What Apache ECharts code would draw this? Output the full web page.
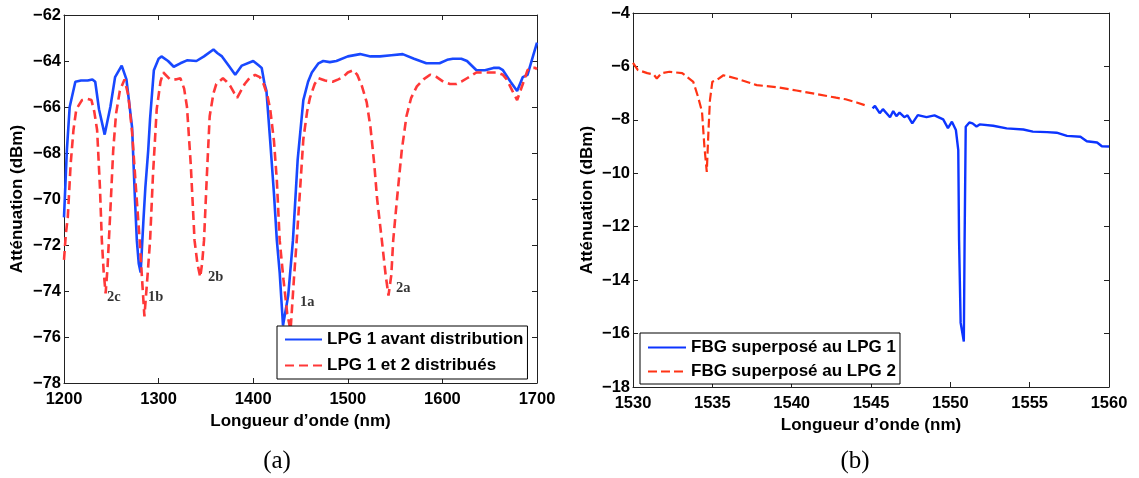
<!DOCTYPE html>
<html>
<head>
<meta charset="utf-8">
<script src="https://cdn.jsdelivr.net/npm/echarts@6/dist/echarts.min.js"></script>
<style>
html,body{margin:0;padding:0;background:#fff;}
#chart{width:1139px;height:478px;}
</style>
</head>
<body>
<div id="chart"></div>
<script>
// ---------- Data (a) ----------
const lpg1Wl = [1200,1203,1206,1212,1218,1225,1230,1233,1237,1243,1249,1254,1261,1266,1272,1275,1277,1279,1281,1284,1286,1289,1291,1295,1300,1303,1310,1316,1323,1330,1340,1348,1358,1362,1367,1374,1381,1388,1400,1406,1409,1412,1414,1418,1422,1425,1428,1431.5,1437,1442,1447,1453,1458,1462,1469,1474,1481,1488,1500,1513,1524,1534,1546,1558,1570,1583,1597,1605,1611,1620,1626,1636,1645,1654,1660,1664,1672,1679,1685,1690,1695,1700];
const lpg1Atten = [-70.8,-67.9,-66.0,-64.9,-64.85,-64.85,-64.8,-64.9,-66.1,-67.2,-66.0,-64.7,-64.2,-64.8,-66.9,-70.0,-71.8,-72.8,-73.2,-70.9,-69.5,-67.9,-66.5,-64.4,-63.9,-63.8,-64.0,-64.25,-64.1,-63.97,-64.0,-63.8,-63.5,-63.65,-63.8,-64.2,-64.6,-64.2,-64.0,-64.2,-64.3,-65.0,-65.3,-67.5,-69.8,-71.8,-73.2,-75.5,-74.2,-71.8,-68.3,-65.7,-64.9,-64.5,-64.1,-64.0,-64.05,-64.0,-63.8,-63.7,-63.8,-63.8,-63.75,-63.7,-63.9,-64.1,-64.1,-63.95,-63.9,-63.9,-64.0,-64.4,-64.4,-64.3,-64.3,-64.4,-64.9,-65.3,-64.7,-64.6,-63.9,-63.2];

const lpg12Wl = [1200,1202,1204,1207,1210,1213,1219,1225,1229,1232,1235,1238,1240,1242,1244,1246,1249,1252,1255,1259,1264,1268,1272,1276,1280,1283,1285,1288,1291,1294,1298,1302,1305,1312,1318,1323,1327,1330,1334,1338,1341,1344,1346,1348,1351,1354,1358,1361,1368,1372,1376,1380,1383,1387,1391,1396,1402,1407,1411,1415,1418,1422,1425,1428,1432,1436,1439.5,1443,1446,1450,1453,1457,1460,1465,1469,1476,1484,1490,1495,1500,1506,1510,1515,1520,1524,1528,1531,1536,1540,1543,1546,1548,1552,1557,1562,1567,1573,1580,1587,1594,1601,1608,1615,1620,1626,1636,1647,1658,1664,1668,1674,1679,1685,1690,1694,1698,1700];
const lpg12Atten = [-72.65,-71.5,-70.8,-68.5,-67.0,-66.1,-65.7,-65.65,-65.7,-66.2,-67.0,-69.5,-71.8,-73.2,-74.1,-73.0,-70.5,-67.9,-66.3,-65.3,-64.8,-65.5,-67.1,-69.5,-71.8,-73.8,-75.1,-73.5,-71.8,-69.0,-66.1,-64.9,-64.5,-64.8,-64.8,-64.75,-65.2,-66.0,-68.5,-71.8,-72.8,-73.4,-72.8,-71.8,-69.0,-66.4,-65.4,-65.0,-64.75,-64.9,-65.1,-65.4,-65.6,-65.3,-65.0,-64.75,-64.6,-64.7,-65.0,-65.5,-66.1,-67.5,-69.2,-71.8,-73.5,-75.0,-75.7,-73.5,-71.8,-69.3,-67.4,-66.2,-65.6,-65.0,-64.75,-64.85,-64.9,-64.8,-64.7,-64.5,-64.4,-64.6,-65.1,-65.8,-66.9,-68.5,-70.0,-71.8,-73.3,-74.2,-73.3,-71.8,-70.0,-67.9,-66.4,-65.6,-65.1,-64.8,-64.6,-64.7,-64.9,-65.0,-65.0,-64.9,-64.75,-64.5,-64.5,-64.5,-64.6,-64.8,-65.3,-65.7,-65.0,-64.4,-64.3,-64.3,-64.35];

const annoNames = ['2c','1b','2b','1a','2a'];
const annoWl = [1245.5,1288.8,1352.2,1449.5,1551];
const annoAtten = [-74.26,-74.26,-73.4,-74.5,-73.9];

// ---------- Data (b) ----------
const fbg1Wl = [1545.1,1545.25,1545.55,1545.75,1546.2,1546.4,1546.6,1546.8,1547.1,1547.3,1547.6,1547.95,1548.5,1549.0,1549.55,1549.85,1550.1,1550.35,1550.5,1550.55,1550.65,1550.85,1550.9,1550.97,1551.2,1551.4,1551.65,1551.85,1552.7,1553.55,1554.6,1555.2,1556.1,1556.7,1557.35,1558.2,1558.6,1559.25,1559.55,1560];
const fbg1Atten = [-7.57,-7.48,-7.75,-7.6,-7.9,-7.67,-7.86,-7.73,-7.9,-7.83,-8.13,-7.82,-7.9,-7.83,-7.98,-8.31,-8.07,-8.38,-9.13,-12.5,-15.6,-16.3,-12.5,-8.26,-8.1,-8.13,-8.25,-8.17,-8.22,-8.32,-8.36,-8.44,-8.46,-8.48,-8.6,-8.63,-8.8,-8.85,-8.99,-9.0];

const fbg2Wl = [1530.0,1530.3,1530.9,1531.3,1531.5,1531.8,1532.3,1533.1,1533.8,1534.1,1534.35,1534.5,1534.65,1534.75,1534.85,1535.0,1535.3,1535.7,1536.5,1537.8,1539.1,1540.3,1541.6,1542.8,1543.4,1544.1,1544.6];
const fbg2Atten = [-5.87,-6.13,-6.25,-6.3,-6.45,-6.25,-6.2,-6.25,-6.58,-7.14,-7.7,-9.0,-9.95,-8.5,-7.26,-6.57,-6.5,-6.33,-6.45,-6.7,-6.78,-6.9,-7.04,-7.17,-7.23,-7.35,-7.45];

// ---------- Axis ranges / labels ----------
const axA = {xMin:1200, xMax:1700, xStep:100, yMin:-78, yMax:-62, yStep:2};
const axB = {xMin:1530, xMax:1560, xStep:5, yMin:-18, yMax:-4, yStep:2};
const xName = "Longueur d\u2019onde (nm)";
const yName = "Att\u00e9nuation (dBm)";
const seriesNames = ['LPG 1 avant distribution','LPG 1 et 2 distribu\u00e9s','FBG superpos\u00e9 au LPG 1','FBG superpos\u00e9 au LPG 2'];
const panelLabels = ['(a)','(b)'];

const zip = (a,b) => a.map((v,i)=>[v,b[i]]);
const SANS = "'Liberation Sans', Arial, Helvetica, sans-serif";
const SERIF = "'Liberation Serif', 'DejaVu Serif', serif";
const minus = v => String(v).replace('-', '\u2212');

function xAxis(grid, ax, pos, main, gap){
  return {
    type:'value', gridIndex:grid, position:pos, min:ax.xMin, max:ax.xMax, interval:ax.xStep,
    axisLine:{show:true, onZero:false, lineStyle:{color:'#222', width:1}},
    axisTick:{show:true, inside:true, length:5, lineStyle:{color:'#222'}},
    splitLine:{show:false},
    axisLabel:{show:main, margin:8, color:'#000', fontFamily:SANS, fontWeight:'bold', fontSize:16.5, formatter:minus},
    name: main ? xName : '', nameLocation:'middle', nameGap:gap,
    nameTextStyle:{color:'#000', fontFamily:SANS, fontWeight:'bold', fontSize:17}
  };
}
function yAxis(grid, ax, pos, main, gap){
  return {
    type:'value', gridIndex:grid, position:pos, min:ax.yMin, max:ax.yMax, interval:ax.yStep,
    axisLine:{show:true, onZero:false, lineStyle:{color:'#222', width:1}},
    axisTick:{show:true, inside:true, length:5, lineStyle:{color:'#222'}},
    splitLine:{show:false},
    axisLabel:{show:main, margin:3, color:'#000', fontFamily:SANS, fontWeight:'bold', fontSize:16.5, formatter:minus},
    name: main ? yName : '', nameLocation:'middle', nameGap:gap,
    nameTextStyle:{color:'#000', fontFamily:SANS, fontWeight:'bold', fontSize:17}
  };
}

const legendBase = {
  orient:'vertical', itemHeight:14,
  borderColor:'#000', borderWidth:1, borderRadius:0, backgroundColor:'#fff',
  itemStyle:{opacity:0},
  textStyle:{color:'#000', fontFamily:SANS, fontWeight:'bold', fontSize:17, lineHeight:17}
};

const chart = echarts.init(document.getElementById('chart'), null, {renderer:'canvas'});
chart.setOption({
  animation:false,
  backgroundColor:'#fff',
  grid:[
    {left:64, top:15, width:473, height:368},
    {left:633, top:13, width:476, height:374}
  ],
  xAxis:[ xAxis(0,axA,'bottom',true,28), xAxis(0,axA,'top',false,0), xAxis(1,axB,'bottom',true,26), xAxis(1,axB,'top',false,0) ],
  yAxis:[ yAxis(0,axA,'left',true,38), yAxis(0,axA,'right',false,0), yAxis(1,axB,'left',true,37), yAxis(1,axB,'right',false,0) ],
  legend:[
    Object.assign({}, legendBase, {data:[seriesNames[0],seriesNames[1]], left:277, top:326,
      itemWidth:37, itemGap:9, padding:[5,4,5,7]}),
    Object.assign({}, legendBase, {data:[seriesNames[2],seriesNames[3]], left:640, top:333,
      itemWidth:38, itemGap:7, padding:[6,4,4,7]})
  ],
  graphic:[
    {type:'text', x:277, y:461, style:{text:panelLabels[0], x:0, y:0, textAlign:'center', textVerticalAlign:'middle', font:"25px "+SERIF, fill:'#000'}},
    {type:'text', x:855, y:461, style:{text:panelLabels[1], x:0, y:0, textAlign:'center', textVerticalAlign:'middle', font:"25px "+SERIF, fill:'#000'}}
  ],
  series:[
    {name:seriesNames[0], type:'line', xAxisIndex:0, yAxisIndex:0, data:zip(lpg1Wl,lpg1Atten),
     symbol:'none', smooth:false, lineStyle:{color:'#1848ff', width:2.6}, itemStyle:{color:'#1848ff'}},
    {name:seriesNames[1], type:'line', xAxisIndex:0, yAxisIndex:0, data:zip(lpg12Wl,lpg12Atten),
     symbol:'none', smooth:false, lineStyle:{color:'#ff3838', width:2.6, type:[9,5]}, itemStyle:{color:'#ff3838'}},
    {name:'annotations', type:'scatter', xAxisIndex:0, yAxisIndex:0, symbolSize:0, silent:true,
     data:annoWl.map((w,i)=>({name:annoNames[i], value:[w,annoAtten[i]]})),
     label:{show:true, position:'right', distance:0, formatter:'{b}', color:'#000', fontFamily:SERIF, fontWeight:'bold', fontSize:14.5}},
    {name:seriesNames[2], type:'line', xAxisIndex:2, yAxisIndex:2, data:zip(fbg1Wl,fbg1Atten),
     symbol:'none', smooth:false, lineStyle:{color:'#0c34ff', width:2.4}, itemStyle:{color:'#0c34ff'}},
    {name:seriesNames[3], type:'line', xAxisIndex:2, yAxisIndex:2, data:zip(fbg2Wl,fbg2Atten),
     symbol:'none', smooth:false, lineStyle:{color:'#ff3314', width:2.2, type:[9,4]}, itemStyle:{color:'#ff3314'}}
  ]
});
</script>
</body>
</html>
